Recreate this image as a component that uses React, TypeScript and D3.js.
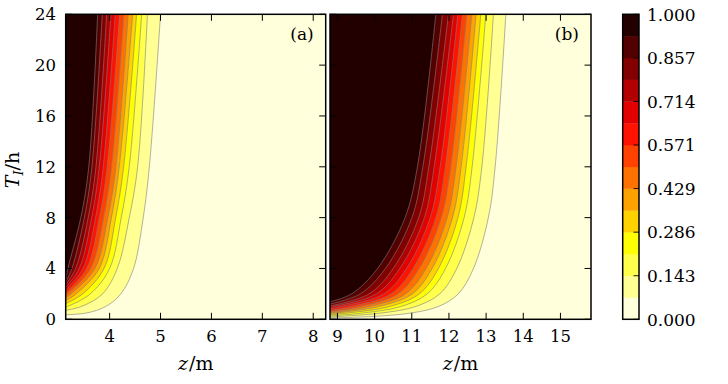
import * as d3 from "d3";

const W = 728;
const H = 384;

// contour levels 0..1 in 14 bands
const levels = d3.range(15).map((i) => i / 14);
const cbarTicks = ["0.000", "0.143", "0.286", "0.429", "0.571", "0.714", "0.857", "1.000"];
const yTicks = [0, 4, 8, 12, 16, 20, 24];
const xTicksA = [4, 5, 6, 7, 8];
const xTicksB = [9, 10, 11, 12, 13, 14, 15];

// panel (a): T where each contour leaves the left edge (levels 1/14 .. 13/14)
const rowsA = [0.5, 1, 2, 4, 8, 12, 24];
const edgeTA = [0.36, 0.71, 0.99, 1.23, 1.46, 1.68, 1.89, 2.09, 2.31, 2.52, 2.72, 2.93, 3.17];
const zA: (number | null)[][] = [
  [3.55, 3.92, 4.22, 4.47, 4.66, 4.78, 5.0],
  [null, 3.44, 3.86, 4.15, 4.386, 4.55, 4.743],
  [null, 3.16, 3.62, 4.0, 4.228, 4.385, 4.629],
  [null, null, 3.47, 3.89, 4.12, 4.275, 4.53],
  [null, null, 3.34, 3.795, 4.035, 4.189, 4.452],
  [null, null, 3.24, 3.71, 3.965, 4.124, 4.365],
  [null, null, 3.17, 3.627, 3.882, 4.039, 4.281],
  [null, null, null, 3.548, 3.799, 3.953, 4.196],
  [null, null, null, 3.476, 3.723, 3.874, 4.11],
  [null, null, null, 3.403, 3.647, 3.796, 4.026],
  [null, null, null, 3.332, 3.579, 3.731, 3.941],
  [null, null, null, 3.259, 3.503, 3.652, 3.855],
  [null, null, null, 3.18, 3.434, 3.59, 3.764],
];

// panel (b)
const rowsB = [0.25, 0.5, 1, 2, 4, 8, 12, 24];
const edgeTB = [0.1, 0.18, 0.26, 0.34, 0.42, 0.5, 0.59, 0.69, 0.8, 0.92, 1.05, 1.2, 1.38];
const zB: (number | null)[][] = [
  [10.1, 10.99, 11.71, 12.25, 12.66, 13.06, 13.243, 13.531],
  [9.2, 10.2, 11.1, 11.751, 12.211, 12.67, 12.885, 13.197],
  [null, 9.7, 10.7, 11.415, 11.909, 12.408, 12.624, 12.992],
  [null, 9.3, 10.4, 11.203, 11.718, 12.242, 12.463, 12.858],
  [null, 9.0, 10.1, 11.013, 11.548, 12.095, 12.328, 12.731],
  [null, null, 9.85, 10.832, 11.385, 11.953, 12.194, 12.616],
  [null, null, 9.6, 10.628, 11.202, 11.794, 12.051, 12.481],
  [null, null, 9.35, 10.442, 11.035, 11.649, 11.906, 12.363],
  [null, null, 9.1, 10.247, 10.859, 11.496, 11.763, 12.239],
  [null, null, 8.9, 10.046, 10.679, 11.34, 11.602, 12.121],
  [null, null, null, 9.848, 10.501, 11.185, 11.459, 11.986],
  [null, null, null, 9.615, 10.292, 11.004, 11.298, 11.825],
  [null, null, null, 9.38, 10.08, 10.82, 11.152, 11.647],
];

// matplotlib "hot", reversed per band
const hot = d3
  .scaleLinear<string>()
  .domain([0, 0.365079, 0.746032, 1])
  .range(["rgb(11,0,0)", "rgb(255,0,0)", "rgb(255,255,0)", "rgb(255,255,255)"])
  .interpolate(d3.interpolateRgb);
const bandColor = (i: number) => hot(1 - (i + 0.5) / 14);

const TOP = 14.3;
const BOT = 319.3;
const serif = { fontFamily: "'DejaVu Serif', serif" };

const y = d3.scaleLinear().domain([0, 24]).range([BOT, TOP]);

function Panel({ x0, x1, dom, ticks, rows, edgeT, zs, tag, id, yLabels }: any) {
  const x = d3.scaleLinear().domain(dom).range([x0, x1]);
  const zmin = dom[0];
  const line = d3
    .line<[number, number]>()
    .x((d) => x(d[0]))
    .y((d) => y(d[1]))
    .curve(d3.curveCatmullRom.alpha(0.5));

  const curves = zs.map((row: (number | null)[], k: number) => {
    const pts: [number, number][] = [[zmin, edgeT[k]]];
    row.forEach((z, j) => {
      if (z != null && rows[j] > edgeT[k]) pts.push([z, rows[j]]);
    });
    return pts;
  });

  const tl = 6.5;
  return (
    <g>
      <defs>
        <clipPath id={id}>
          <rect x={x0} y={TOP} width={x1 - x0} height={BOT - TOP} />
        </clipPath>
      </defs>
      <g clipPath={`url(#${id})`}>
        <rect x={x0} y={TOP} width={x1 - x0} height={BOT - TOP} fill={bandColor(0)} />
        {curves.map((pts: [number, number][], k: number) => (
          <path
            key={k}
            d={`${line(pts)}L${x(zmin) - 2},${TOP - 2}L${x(zmin) - 2},${y(edgeT[k])}Z`}
            fill={bandColor(k + 1)}
          />
        ))}
        {curves.map((pts: [number, number][], k: number) => (
          <path key={"l" + k} d={line(pts) || ""} fill="none" stroke="#7d7d7d" strokeWidth={0.6} />
        ))}
      </g>
      {ticks.map((t: number) => (
        <g key={"x" + t}>
          <line x1={x(t)} x2={x(t)} y1={BOT} y2={BOT - tl} stroke="#000" />
          <line x1={x(t)} x2={x(t)} y1={TOP} y2={TOP + tl} stroke="#000" />
          <text x={x(t)} y={342} textAnchor="middle" fontSize={16.5} style={serif}>
            {t}
          </text>
        </g>
      ))}
      {yTicks.map((t) => (
        <g key={"y" + t}>
          <line x1={x0} x2={x0 + tl} y1={y(t)} y2={y(t)} stroke="#000" />
          <line x1={x1} x2={x1 - tl} y1={y(t)} y2={y(t)} stroke="#000" />
          {yLabels && (
            <text x={56} y={y(t) + 6} textAnchor="end" fontSize={16.5} style={serif}>
              {t}
            </text>
          )}
        </g>
      ))}
      <rect x={x0} y={TOP} width={x1 - x0} height={BOT - TOP} fill="none" stroke="#000" strokeWidth={1.5} />
      <text x={x1 - 12} y={39.5} textAnchor="end" fontSize={17} style={serif}>
        {tag}
      </text>
      <text x={(x0 + x1) / 2} y={370} textAnchor="middle" fontSize={19} style={serif}>
        <tspan fontStyle="italic">z</tspan>
        <tspan dx={1}>/</tspan>
        <tspan>m</tspan>
      </text>
    </g>
  );
}

function Colorbar() {
  const cx0 = 622.7;
  const cx1 = 639;
  const cy = d3.scaleLinear().domain([0, 1]).range([BOT, TOP]);
  return (
    <g>
      {d3.range(14).map((i) => (
        <rect
          key={i}
          x={cx0}
          y={cy(levels[i + 1])}
          width={cx1 - cx0}
          height={cy(levels[i]) - cy(levels[i + 1]) + 0.3}
          fill={bandColor(i)}
        />
      ))}
      {cbarTicks.map((s, i) => {
        const v = levels[i * 2];
        return (
          <g key={s}>
            <line x1={cx1 - 5.5} x2={cx1} y1={cy(v)} y2={cy(v)} stroke="#000" strokeWidth={0.9} />
            <text x={647} y={cy(v) + 6.3} fontSize={17} style={serif}>
              {s}
            </text>
          </g>
        );
      })}
      <rect x={cx0} y={TOP} width={cx1 - cx0} height={BOT - TOP} fill="none" stroke="#000" strokeWidth={1.5} />
    </g>
  );
}

export default function App() {
  return (
    <svg
      width={W}
      height={H}
      viewBox={`0 0 ${W} ${H}`}
      style={{ position: "absolute", left: 0, top: 0, background: "#fff" }}
    >
      <Panel
        x0={65.7}
        x1={325.7}
        dom={[3.137, 8.245]}
        ticks={xTicksA}
        rows={rowsA}
        edgeT={edgeTA}
        zs={zA}
        tag="(a)"
        id="clipA"
        yLabels
      />
      <Panel
        x0={330}
        x1={591}
        dom={[8.8, 15.822]}
        ticks={xTicksB}
        rows={rowsB}
        edgeT={edgeTB}
        zs={zB}
        tag="(b)"
        id="clipB"
        yLabels={false}
      />
      <Colorbar />
      <text transform="translate(19,170) rotate(-90)" textAnchor="middle" fontSize={19} style={serif}>
        <tspan fontStyle="italic">T</tspan>
        <tspan fontStyle="italic" fontSize={13} dy={4}>I</tspan>
        <tspan dy={-4}>/h</tspan>
      </text>
    </svg>
  );
}
